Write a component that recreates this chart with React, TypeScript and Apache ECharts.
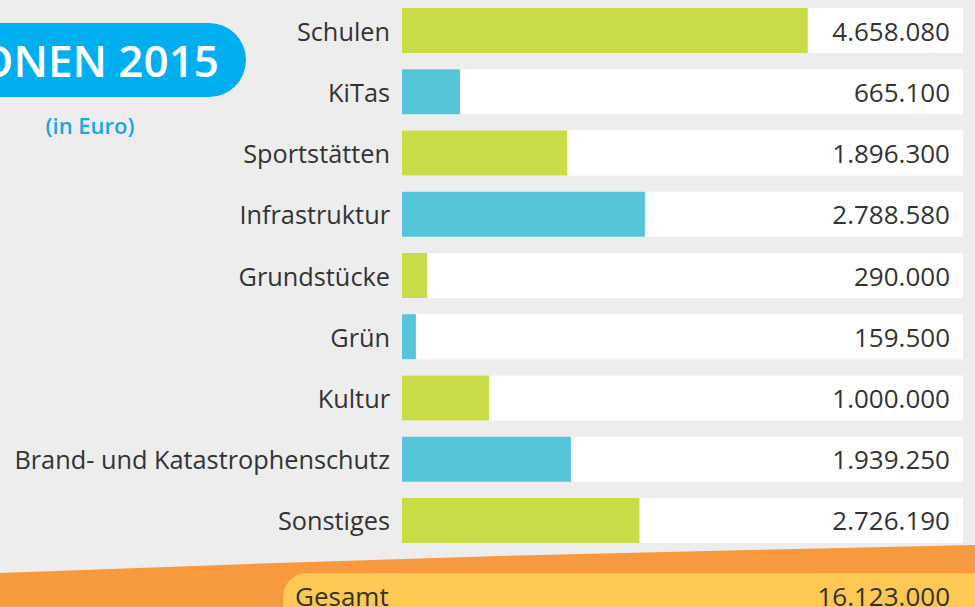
import React, { useEffect, useRef } from "react";
import * as echarts from "echarts";

const categories = [
  "Schulen",
  "KiTas",
  "Sportstätten",
  "Infrastruktur",
  "Grundstücke",
  "Grün",
  "Kultur",
  "Brand- und Katastrophenschutz",
  "Sonstiges",
];
const values = [4658080, 665100, 1896300, 2788580, 290000, 159500, 1000000, 1939250, 2726190];
const barColors = ["#c9dc47", "#55c6d8", "#c9dc47", "#55c6d8", "#c9dc47", "#55c6d8", "#c9dc47", "#55c6d8", "#c9dc47"];
const totalLabel = "Gesamt";
const totalValue = 16123000;
const titleText = "INVESTITIONEN 2015";
const unitText = "(in Euro)";
const axisMax = 6440000;

const fmt = (v: number) => v.toString().replace(/\B(?=(\d{3})+(?!\d))/g, ".");

export default function App() {
  const ref = useRef<HTMLDivElement>(null);
  useEffect(() => {
    if (!ref.current) return;
    const chart = echarts.init(ref.current, undefined, { renderer: "svg" });
    const font = "'Open Sans', 'Noto Sans', sans-serif";
    chart.setOption({
      animation: false,
      backgroundColor: "#ededed",
      textStyle: { fontFamily: font },
      grid: { left: 402, width: 561, top: 0, height: 551, containLabel: false },
      xAxis: { type: "value", min: 0, max: axisMax, show: false },
      yAxis: {
        type: "category",
        data: categories,
        inverse: true,
        axisLine: { show: false },
        axisTick: { show: false },
        splitLine: { show: false },
        axisLabel: { fontSize: 25.3, color: "#333333", margin: 12, fontFamily: font, padding: [0, 0, 3, 0] },
      },
      series: [
        {
          type: "bar",
          barWidth: 45,
          data: values.map((v, i) => ({ value: v, itemStyle: { color: barColors[i] } })),
          showBackground: true,
          backgroundStyle: { color: "#ffffff" },
          z: 2,
        },
        {
          type: "bar",
          barWidth: 45,
          barGap: "-100%",
          data: values.map(() => axisMax),
          itemStyle: { color: "rgba(0,0,0,0)" },
          silent: true,
          z: 3,
          label: {
            show: true,
            position: "insideRight",
            distance: 13,
            fontSize: 26,
            color: "#333333",
            fontFamily: font,
            formatter: (p: any) => fmt(values[p.dataIndex]),
          },
        },
      ],
      graphic: [
        {
          type: "rect",
          shape: { x: -60, y: 23, width: 306, height: 74, r: 37 },
          style: { fill: "#00aeef" },
          z: 10,
        },
        {
          type: "text",
          x: 219,
          y: 60,
          style: {
            text: titleText,
            fill: "#ffffff",
            font: `600 44px ${font}`,
            textAlign: "right",
            textVerticalAlign: "middle",
          },
          z: 11,
        },
        {
          type: "text",
          x: 90,
          y: 125,
          style: {
            text: unitText,
            fill: "#1aa6e0",
            font: `600 22px ${font}`,
            textAlign: "center",
            textVerticalAlign: "middle",
          },
          z: 11,
        },
        {
          type: "polygon",
          shape: { points: [[0, 573], [250, 564], [500, 556], [750, 550], [975, 545], [975, 607], [0, 607]] },
          style: { fill: "#f7993f" },
          z: 10,
        },
        {
          type: "rect",
          shape: { x: 283, y: 573, width: 760, height: 80, r: [24, 0, 0, 0] },
          style: { fill: "#fdc854" },
          z: 11,
        },
        {
          type: "text",
          x: 295,
          y: 596,
          style: {
            text: totalLabel,
            fill: "#333333",
            font: `26px ${font}`,
            textAlign: "left",
            textVerticalAlign: "middle",
          },
          z: 12,
        },
        {
          type: "text",
          x: 950,
          y: 596,
          style: {
            text: fmt(totalValue),
            fill: "#333333",
            font: `26px ${font}`,
            textAlign: "right",
            textVerticalAlign: "middle",
          },
          z: 12,
        },
      ],
    });
    return () => chart.dispose();
  }, []);
  return <div ref={ref} style={{ width: 975, height: 607, position: "fixed", left: 0, top: 0 }} />;
}
